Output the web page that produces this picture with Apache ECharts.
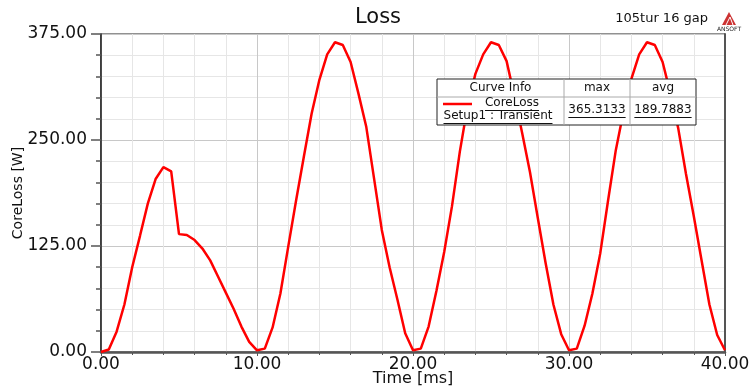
<!DOCTYPE html>
<html>
<head>
<meta charset="utf-8">
<script src="https://cdn.jsdelivr.net/npm/echarts@6/dist/echarts.min.js"></script>
<style>html,body{margin:0;padding:0;background:#fff;}#c{width:752px;height:390px;}</style>
</head>
<body>
<div id="c"></div>
<script>
// Time samples [ms]
var times = [0,0.5,1,1.5,2,2.5,3,3.5,4,4.5,5,5.5,6,6.5,7,7.5,8,8.5,9,9.5,
  10,10.5,11,11.5,12,12.5,13,13.5,14,14.5,15,15.5,16,16.5,17,17.5,18,18.5,19,19.5,
  20,20.5,21,21.5,22,22.5,23,23.5,24,24.5,25,25.5,26,26.5,27,27.5,28,28.5,29,29.5,
  30,30.5,31,31.5,32,32.5,33,33.5,34,34.5,35,35.5,36,36.5,37,37.5,38,38.5,39,39.5,40];
// CoreLoss [W]
var coreLoss = [0,3,24,56,100,137,175,204,218,213,139,138,132,122,108,89,70,51,30,12,
  2,4,29,69,124,178,230,281,321,351,365.3,362,342,305,266,205,144,100,62,22,
  2,4,30,72,118,172,236,290,328,351,365.3,362,343,302,258,212,158,105,56,21,
  2,4,31,69,116,178,238,284,322,351,365.3,362,342,305,264,210,160,108,56,20,2];
var yTicks = [0,125,250,375];
var xTicks = [0,10,20,30,40];
var legendHeader = ['Curve Info','max','avg'];
var legendName = ['CoreLoss','Setup1 : Transient'];
var legendStats = ['365.3133','189.7883'];
var titleText = 'Loss';
var subText = '105tur 16 gap';

var FONT = '"DejaVu Sans", sans-serif';
var data = times.map(function(t,i){return [t, coreLoss[i]];});

function textW(str, size){
  var c = document.createElement('canvas').getContext('2d');
  c.font = size + 'px "DejaVu Sans"';
  return c.measureText(str).width;
}

var chart = echarts.init(document.getElementById('c'), null, {renderer:'canvas'});

// legend table geometry
var bx = 437, by = 79, bw = 259, bh = 46, c1 = 564, c2 = 630, hy = 97;
var lf = 12;
var g = [];
g.push({type:'rect', shape:{x:bx,y:by,width:bw,height:bh}, style:{fill:'#fff', stroke:'#222', lineWidth:1}, z:100});
g.push({type:'line', shape:{x1:bx,y1:hy,x2:bx+bw,y2:hy}, style:{stroke:'#aaa', lineWidth:1}, z:101});
g.push({type:'line', shape:{x1:c1,y1:by,x2:c1,y2:by+bh}, style:{stroke:'#aaa', lineWidth:1}, z:101});
g.push({type:'line', shape:{x1:c2,y1:by,x2:c2,y2:by+bh}, style:{stroke:'#aaa', lineWidth:1}, z:101});
function txt(s, x, y, ul){
  g.push({type:'text', x:x, y:y, style:{text:s, fill:'#111', font:lf+'px '+FONT, align:'center', verticalAlign:'middle'}, z:102});
  if(ul){
    var w = textW(s, lf);
    g.push({type:'line', shape:{x1:x-w/2, y1:y+7.5, x2:x+w/2, y2:y+7.5}, style:{stroke:'#111', lineWidth:1}, z:102});
  }
}
txt(legendHeader[0], (bx+c1)/2, 88, false);
txt(legendHeader[1], (c1+c2)/2, 88, false);
txt(legendHeader[2], (c2+bx+bw)/2, 88, false);
g.push({type:'line', shape:{x1:443,y1:104,x2:472,y2:104}, style:{stroke:'#ff0000', lineWidth:2.5}, z:102});
txt(legendName[0], 512, 103, true);
txt(legendName[1], 498, 116, true);
txt(legendStats[0], (c1+c2)/2, 110, true);
txt(legendStats[1], (c2+bx+bw)/2, 110, true);
// title texts
g.push({type:'text', x:378, y:18, style:{text:titleText, fill:'#111', font:'21px '+FONT, align:'center', verticalAlign:'middle'}});
g.push({type:'text', x:708, y:19, style:{text:subText, fill:'#111', font:'13px '+FONT, align:'right', verticalAlign:'middle'}});
// ANSOFT logo
g.push({type:'polygon', shape:{points:[[729,12],[722,25],[736,25]]}, style:{fill:'#c33'}});
g.push({type:'polyline', shape:{points:[[726,25],[730,17],[733,25]]}, style:{stroke:'#fff', lineWidth:1, fill:null}});
g.push({type:'text', x:729, y:29, style:{text:'ANSOFT', fill:'#222', font:'6px '+FONT, align:'center', verticalAlign:'middle'}});

var option = {
  animation:false,
  backgroundColor:'#fff',
  grid:{left:101, right:27, top:34, bottom:38, outerBoundsMode:'none', containLabel:false, show:true, borderColor:'#222', borderWidth:1},
  xAxis:{
    type:'value', min:xTicks[0], max:xTicks[xTicks.length-1], interval:10,
    name:'Time [ms]', nameLocation:'middle', nameGap:19, nameMoveOverlap:false,
    nameTextStyle:{fontFamily:FONT, fontSize:16, color:'#111', verticalAlign:'top'},
    axisLine:{show:true, onZero:false, lineStyle:{color:'#555', width:2.5}},
    axisTick:{show:true, length:4, lineStyle:{color:'#555'}},
    minorTick:{show:true, splitNumber:5, length:3, lineStyle:{color:'#555'}},
    axisLabel:{fontFamily:FONT, fontSize:17, color:'#111', margin:4, formatter:function(v){return v.toFixed(2);}},
    splitLine:{show:true, lineStyle:{color:'#c8c8c8', width:1}},
    minorSplitLine:{show:true, lineStyle:{color:'#e6e6e6', width:1}}
  },
  yAxis:[{
    type:'value', min:yTicks[0], max:yTicks[yTicks.length-1], interval:125,
    name:'CoreLoss [W]', nameLocation:'middle', nameGap:76, nameRotate:90, nameMoveOverlap:false,
    nameTextStyle:{fontFamily:FONT, fontSize:14, color:'#111'},
    axisLine:{show:true, lineStyle:{color:'#222', width:1.5}},
    axisTick:{show:true, length:10, lineStyle:{color:'#555', width:1.5}},
    minorTick:{show:true, splitNumber:5, length:5, lineStyle:{color:'#555', width:1.5}},
    axisLabel:{fontFamily:FONT, fontSize:17, color:'#111', margin:14, formatter:function(v){return v.toFixed(2);}},
    splitLine:{show:true, lineStyle:{color:'#c8c8c8', width:1}},
    minorSplitLine:{show:true, lineStyle:{color:'#e6e6e6', width:1}}
  },{
    type:'value', position:'right', min:0, max:375, interval:125,
    axisLine:{show:true, lineStyle:{color:'#555', width:2}},
    axisTick:{show:false}, axisLabel:{show:false}, splitLine:{show:false}
  }],
  series:[{
    type:'line', data:data, showSymbol:false, symbol:'none',
    lineStyle:{color:'#ff0000', width:2.5}, z:5
  }],
  graphic:g
};
chart.setOption(option);
</script>
</body>
</html>
